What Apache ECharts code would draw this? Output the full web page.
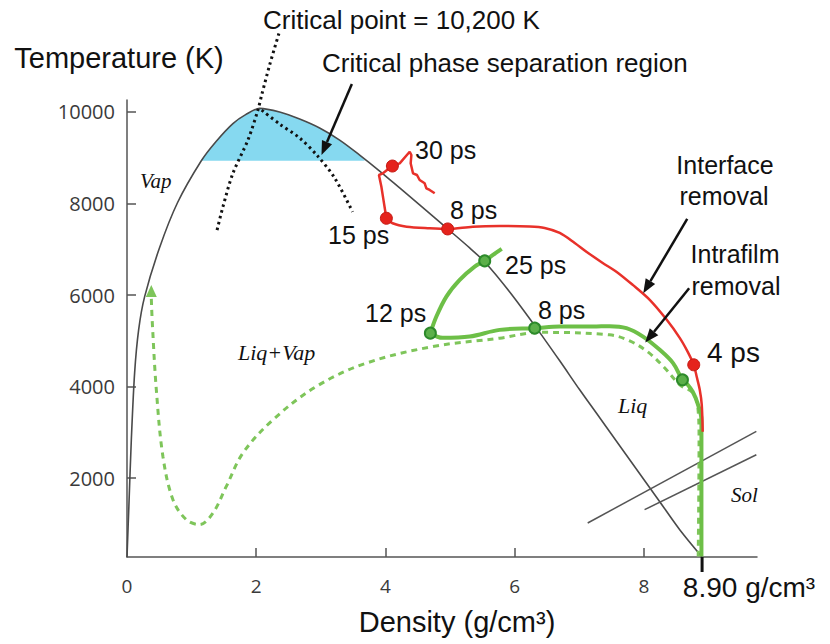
<!DOCTYPE html>
<html>
<head>
<meta charset="utf-8">
<title>Phase diagram</title>
<script src="https://cdn.jsdelivr.net/npm/echarts@6/dist/echarts.min.js"></script>
<style>
  html, body { margin: 0; padding: 0; background: #fff; }
  #chart { width: 830px; height: 644px; }
</style>
</head>
<body>
<div id="chart"></div>
<script>
// all points are [density g/cm3, temperature K]
const coexistence = [
  [0, 280], [0.029, 1385], [0.067, 2841], [0.118, 4302], [0.18, 5240], [0.272, 5960],
  [0.505, 7040], [0.783, 8022], [1.15, 8934], [1.382, 9360], [1.639, 9745], [1.836, 9940],
  [2.053, 10077], [2.362, 9996], [2.672, 9843], [2.981, 9647], [3.291, 9385], [3.601, 9058],
  [3.91, 8709], [4.22, 8339], [4.529, 7968], [4.963, 7444], [5.303, 7030], [5.551, 6702],
  [5.923, 6069], [6.325, 5306], [6.697, 4564], [7.006, 3931], [7.316, 3320], [7.625, 2710],
  [7.935, 2099], [8.245, 1488], [8.554, 877], [8.9, 280]
];
const criticalRegion = [
  [1.15, 8935], [1.382, 9360], [1.639, 9745], [1.836, 9940], [2.053, 10077], [2.362, 9996],
  [2.672, 9843], [2.981, 9647], [3.291, 9385], [3.601, 9058], [3.68, 8935]
];
const criticalLineA = [
  [2.351, 11713], [2.207, 11022], [2.084, 10367], [2.026, 10040], [1.872, 9386],
  [1.639, 8659], [1.485, 7930], [1.382, 7350]
];
const criticalLineB = [
  [2.084, 10040], [2.362, 9735], [2.672, 9430], [2.95, 9037], [3.214, 8557], [3.492, 7815]
];
const solidusA = [[7.13, 1023], [9.74, 3022]];
const solidusB = [[8.01, 1313], [9.74, 2513]];

const redPath = [
  [8.91, 3015], [8.895, 3604], [8.864, 3931], [8.817, 4215], [8.771, 4477], [8.678, 4760],
  [8.554, 5066], [8.353, 5459], [8.09, 5895], [7.827, 6222], [7.579, 6506], [7.362, 6702],
  [7.115, 6942], [6.929, 7139], [6.697, 7357], [6.464, 7466], [6.232, 7498], [5.768, 7509],
  [5.35, 7494], [4.963, 7444], [4.684, 7459], [4.328, 7494], [4.111, 7568], [4.014, 7677]
];
const redJag = [
  [4.014, 7677], [3.961, 8149], [3.937, 8367], [3.899, 8622], [3.961, 8659], [4.039, 8746],
  [4.107, 8818], [4.22, 8877], [4.375, 9130], [4.401, 9058], [4.39, 8877], [4.426, 8659],
  [4.488, 8622], [4.529, 8513], [4.607, 8441], [4.633, 8332], [4.684, 8295], [4.762, 8223]
];
const redPoints = [[8.771, 4477], [4.963, 7444], [4.014, 7677], [4.107, 8818]];

const greenPath = [
  [8.89, 290], [8.89, 2841], [8.89, 3277], [8.833, 3626], [8.755, 3888], [8.678, 4040],
  [8.596, 4150], [8.451, 4514], [8.245, 4804], [7.986, 5094], [7.729, 5278], [7.47, 5321],
  [7.212, 5312], [6.697, 5312], [6.31, 5278], [5.768, 5240], [5.303, 5094], [4.885, 5066],
  [4.695, 5168]
];
const greenReturn = [
  [4.695, 5168], [4.788, 5531], [4.943, 5967], [5.149, 6331], [5.381, 6622], [5.536, 6746],
  [5.664, 6877], [5.799, 7008]
];
const greenPoints = [[8.596, 4150], [6.31, 5278], [4.695, 5168], [5.536, 6746]];

const greenDashed = [
  [8.84, 290], [8.853, 2841], [8.838, 3495], [8.76, 3859], [8.555, 4040], [8.306, 4433],
  [8.059, 4760], [7.78, 5000], [7.47, 5131], [6.387, 5186], [5.768, 5059], [4.735, 4876],
  [3.704, 4514], [2.93, 4004], [2.259, 3277], [1.794, 2550], [1.537, 1822], [1.33, 1241],
  [1.124, 988], [0.918, 1095], [0.711, 1532], [0.556, 2476], [0.454, 3931], [0.392, 5386],
  [0.376, 5939]
];
const dashedArrowTip = [[0.376, 6091]];

// [fromX, fromY, toX, toY]
const arrows = [
  [3.48, 10607, 3.01, 9060],
  [8.67, 7662, 7.99, 6041],
  [8.70, 6150, 8.02, 4963]
];

const xLabels = [0, 2, 4, 6, 8];
const xTicks = [2, 4, 6, 8];
const yLabels = [2000, 4000, 6000, 8000, 10000];
const meltDensity = [[8.9, 280]];

const sans = '"Liberation Sans", Arial, Helvetica, sans-serif';
const serif = '"Liberation Serif", "Times New Roman", serif';
const tickFont = '"Open Sans", sans-serif';

function label(text, x, y, size, opts) {
  opts = opts || {};
  return {
    type: 'text', x: x, y: y, silent: true,
    style: {
      text: text,
      font: (opts.italic ? 'italic ' : '') + size + 'px ' + (opts.serif ? serif : sans),
      fill: '#111',
      align: opts.align || 'left',
      verticalAlign: 'middle'
    }
  };
}

function renderArrow(params, api) {
  const a = api.coord([api.value(0), api.value(1)]);
  const b = api.coord([api.value(2), api.value(3)]);
  const ang = Math.atan2(b[1] - a[1], b[0] - a[0]);
  const len = 14, half = 5.5;
  const base = [b[0] - len * Math.cos(ang), b[1] - len * Math.sin(ang)];
  const nx = -Math.sin(ang) * half, ny = Math.cos(ang) * half;
  return {
    type: 'group',
    children: [
      { type: 'line', shape: { x1: a[0], y1: a[1], x2: base[0], y2: base[1] },
        style: { stroke: '#111', lineWidth: 2.5 } },
      { type: 'polygon', shape: { points: [b, [base[0] + nx, base[1] + ny], [base[0] - nx, base[1] - ny]] },
        style: { fill: '#111' } }
    ]
  };
}

function plain(data, color, width, extra) {
  return Object.assign({
    type: 'line', data: data, symbol: 'none', silent: true,
    lineStyle: { color: color, width: width },
    emphasis: { disabled: true }
  }, extra || {});
}

const chart = echarts.init(document.getElementById('chart'), null, { renderer: 'svg' });

chart.setOption({
  animation: false,
  backgroundColor: '#fff',
  grid: { left: 127, right: 73, top: 100, bottom: 87, containLabel: false, outerBoundsMode: 'none' },
  xAxis: {
    type: 'value', min: 0, max: 9.75,
    name: 'Density (g/cm³)',
    nameLocation: 'middle', nameGap: 50,
    nameTextStyle: { fontSize: 29, fontFamily: sans, color: '#111', padding: [0, 0, 0, 30] },
    axisLine: { onZero: false, lineStyle: { color: '#555', width: 1.5 } },
    axisTick: { inside: true, length: 9, customValues: xTicks, lineStyle: { color: '#555', width: 1.5 } },
    axisLabel: { customValues: xLabels, margin: 19, fontSize: 19, fontFamily: tickFont, color: '#3a3a3a' },
    splitLine: { show: false }
  },
  yAxis: {
    type: 'value', min: 280, max: 10260,
    name: 'Temperature (K)',
    nameLocation: 'end', nameGap: 28,
    nameTextStyle: { fontSize: 29, fontFamily: sans, color: '#111', padding: [0, 16, 0, 0] },
    axisLine: { onZero: false, lineStyle: { color: '#555', width: 1.5 } },
    axisTick: { inside: true, length: 9, customValues: yLabels, lineStyle: { color: '#555', width: 1.5 } },
    axisLabel: {
      customValues: yLabels, margin: 12, fontSize: 20, fontFamily: tickFont, color: '#3a3a3a',
      formatter: function (v) { return String(v); }
    },
    splitLine: { show: false }
  },
  series: [
    plain(criticalRegion, '#86d9f0', 0, {
      smooth: 0.3, z: 1,
      areaStyle: { color: '#86d9f0', opacity: 1, origin: 8935 }
    }),
    plain(coexistence, '#4a4a4a', 1.6, { smooth: 0.3, z: 2 }),
    plain(criticalLineA, '#111', 3, { smooth: 0.3, clip: false, z: 3, lineStyle: { color: '#111', width: 3, type: [2.5, 3.5] } }),
    plain(criticalLineB, '#111', 3, { smooth: 0.3, z: 3, lineStyle: { color: '#111', width: 3, type: [2.5, 3.5] } }),
    plain(solidusA, '#555', 1.5, { z: 2 }),
    plain(solidusB, '#555', 1.5, { z: 2 }),
    plain(greenDashed, '#7ec55a', 3, { smooth: 0.35, z: 4, lineStyle: { color: '#7ec55a', width: 3, type: [6, 5] } }),
    plain(greenPath, '#6dbf47', 4, { smooth: 0.35, z: 5 }),
    plain(greenReturn, '#6dbf47', 4, { smooth: 0.35, z: 5 }),
    plain(redPath, '#e8312a', 2.5, { smooth: 0.3, z: 6 }),
    plain(redJag, '#e8312a', 2.5, { z: 6 }),
    {
      type: 'scatter', data: redPoints, symbolSize: 12, z: 8, silent: true,
      itemStyle: { color: '#e5231c', borderColor: '#c41a14', borderWidth: 1, opacity: 1 }
    },
    {
      type: 'scatter', data: greenPoints, symbolSize: 11, z: 8, silent: true,
      itemStyle: { color: '#5cb04a', borderColor: '#2d8a2b', borderWidth: 2, opacity: 1 }
    },
    {
      type: 'scatter', data: dashedArrowTip, symbol: 'triangle', symbolSize: [11, 12], z: 8, silent: true,
      itemStyle: { color: '#7ec55a', opacity: 1 }
    },
    {
      type: 'scatter', data: meltDensity, symbol: 'rect', symbolSize: [3, 15], symbolOffset: [0, 7.5],
      clip: false, z: 8, silent: true,
      itemStyle: { color: '#111', opacity: 1 }
    },
    {
      type: 'custom', data: arrows, renderItem: renderArrow, clip: false, z: 9, silent: true,
      encode: { x: [0, 2], y: [1, 3] }
    }
  ],
  graphic: [
    label('Critical point = 10,200 K', 263, 20, 26),
    label('Critical phase separation region', 322, 63, 26),
    label('Vap', 140, 181, 21, { italic: true, serif: true }),
    label('Liq+Vap', 238, 352, 22, { italic: true, serif: true }),
    label('Liq', 618, 405, 22, { italic: true, serif: true }),
    label('Sol', 731, 495, 21, { italic: true, serif: true }),
    label('30 ps', 415, 150, 25),
    label('8 ps', 450, 210, 25),
    label('15 ps', 328, 235, 25),
    label('25 ps', 505, 265, 25),
    label('12 ps', 365, 313, 25),
    label('8 ps', 538, 310, 25),
    label('4 ps', 707, 352, 28),
    label('Interface', 725, 165, 25, { align: 'center' }),
    label('removal', 724, 196, 25, { align: 'center' }),
    label('Intrafilm', 735, 254, 25, { align: 'center' }),
    label('removal', 736, 286, 25, { align: 'center' }),
    label('8.90 g/cm³', 749, 587, 28, { align: 'center' })
  ]
});
</script>
</body>
</html>
